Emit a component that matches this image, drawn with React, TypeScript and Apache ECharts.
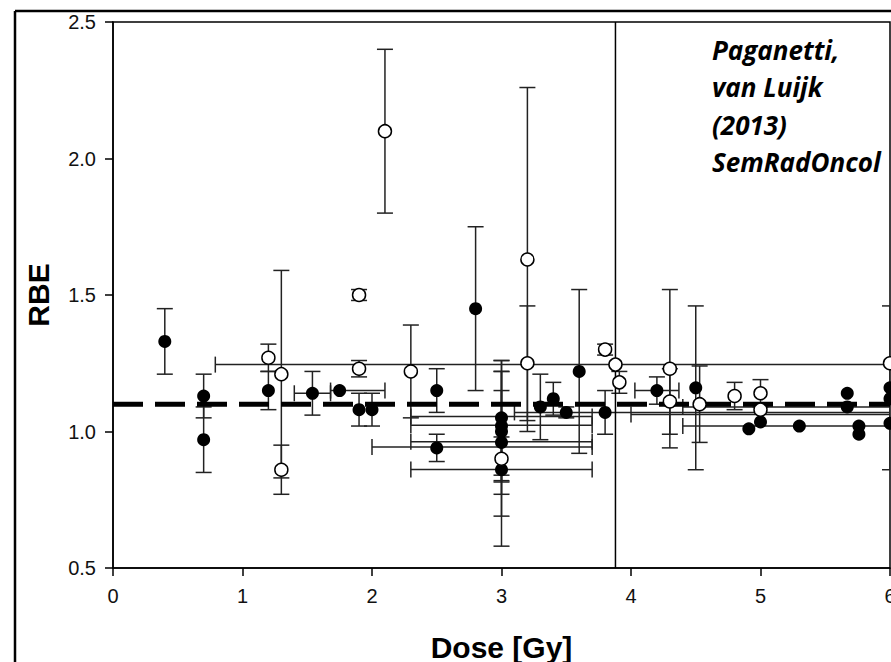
import React, { useEffect, useRef } from "react";
import * as echarts from "echarts";

// ---- data ----
const xTicks = [0, 1, 2, 3, 4, 5, 6];
const yTicks = [0.5, 1.0, 1.5, 2.0, 2.5];

const filledPoints: number[][] = [
  [0.4, 1.33], [0.7, 1.13], [0.7, 0.97], [1.2, 1.15], [1.54, 1.14], [1.75, 1.15],
  [1.9, 1.08], [2.0, 1.08], [2.5, 1.15], [2.5, 0.94], [2.8, 1.45],
  [3.0, 1.05], [3.0, 1.02], [3.0, 1.0], [3.0, 0.96], [3.0, 0.86],
  [3.3, 1.09], [3.4, 1.12], [3.5, 1.07], [3.6, 1.22], [3.8, 1.07],
  [4.2, 1.15], [4.5, 1.16], [4.91, 1.01], [5.0, 1.035], [5.3, 1.02],
  [5.67, 1.14], [5.67, 1.09], [5.76, 1.02], [5.76, 0.99],
  [6.0, 1.16], [6.0, 1.12], [6.0, 1.03],
];

const openPoints: number[][] = [
  [1.2, 1.27], [1.3, 1.21], [1.3, 0.86], [1.9, 1.5], [1.9, 1.23], [2.1, 2.1],
  [2.3, 1.22], [3.0, 0.9], [3.2, 1.63], [3.2, 1.25], [3.8, 1.3], [3.88, 1.245],
  [3.91, 1.18], [4.3, 1.23], [4.3, 1.11], [4.53, 1.1], [4.8, 1.13], [5.0, 1.14],
  [5.0, 1.08], [6.0, 1.25],
];

// [dose, low, high]
const yErrorBars: number[][] = [
  [0.4, 1.21, 1.45], [0.7, 1.05, 1.21], [0.7, 0.85, 1.09], [1.2, 1.22, 1.32],
  [1.2, 1.08, 1.22], [1.3, 0.83, 1.59], [1.3, 0.77, 0.95], [1.54, 1.06, 1.22],
  [1.9, 1.48, 1.52], [1.9, 1.2, 1.26], [1.9, 1.02, 1.14], [2.0, 1.02, 1.14],
  [2.1, 1.8, 2.4], [2.3, 1.05, 1.39], [2.5, 1.07, 1.23], [2.5, 0.89, 0.99],
  [2.8, 1.15, 1.75], [3.0, 0.84, 1.26], [3.0, 0.815, 1.26], [3.0, 0.77, 1.22],
  [3.0, 0.69, 1.22], [3.0, 0.58, 1.15], [3.0, 0.82, 0.98], [3.2, 1.0, 2.26],
  [3.2, 1.04, 1.46], [3.3, 0.97, 1.21], [3.4, 1.06, 1.18], [3.5, 1.05, 1.09],
  [3.6, 0.92, 1.52], [3.8, 0.99, 1.15], [3.8, 1.28, 1.32], [3.91, 1.14, 1.22],
  [4.2, 1.1, 1.2], [4.3, 0.94, 1.52], [4.3, 0.99, 1.23], [4.5, 0.86, 1.46],
  [4.53, 0.96, 1.24], [4.8, 1.08, 1.18], [5.0, 1.09, 1.19], [6.0, 0.86, 1.46],
];

// [rbe, low dose, high dose, left cap, right cap]
const xErrorBars: number[][] = [
  [1.245, 0.79, 6.5, 1, 0], [1.14, 1.4, 1.68, 1, 1], [1.15, 1.68, 2.1, 1, 1],
  [1.055, 2.3, 3.7, 1, 1], [1.023, 2.3, 3.7, 1, 1], [0.962, 2.3, 3.7, 1, 1],
  [0.943, 2.0, 3.7, 1, 1], [0.861, 2.3, 3.7, 1, 1], [1.15, 4.03, 4.37, 1, 1],
  [1.07, 3.1, 6.5, 1, 0], [1.062, 4.0, 6.5, 1, 0], [1.09, 4.4, 6.5, 1, 0],
  [1.02, 4.4, 6.5, 1, 0],
];

const referenceRBE = 1.1;
const dividerDose = 3.88;
const annotation = ["Paganetti,", "van Luijk", "(2013)", "SemRadOncol"];

const CAP = 8;
const BAR_STYLE = { stroke: "#222", lineWidth: 1.5 };
const FONT = "'Liberation Sans', Arial, sans-serif";

export default function App() {
  const ref = useRef<HTMLDivElement>(null);
  useEffect(() => {
    if (!ref.current) return;
    const chart = echarts.init(ref.current, undefined, { renderer: "svg" });

    const renderV = (params: any, api: any) => {
      const x = api.value(0);
      const p1 = api.coord([x, api.value(1)]);
      const p2 = api.coord([x, api.value(2)]);
      return {
        type: "group",
        children: [
          { type: "line", shape: { x1: p1[0], y1: p1[1], x2: p2[0], y2: p2[1] }, style: BAR_STYLE },
          { type: "line", shape: { x1: p1[0] - CAP, y1: p1[1], x2: p1[0] + CAP, y2: p1[1] }, style: BAR_STYLE },
          { type: "line", shape: { x1: p2[0] - CAP, y1: p2[1], x2: p2[0] + CAP, y2: p2[1] }, style: BAR_STYLE },
        ],
      };
    };
    const renderH = (params: any, api: any) => {
      const y = api.value(0);
      const p1 = api.coord([api.value(1), y]);
      const p2 = api.coord([api.value(2), y]);
      const children: any[] = [
        { type: "line", shape: { x1: p1[0], y1: p1[1], x2: p2[0], y2: p2[1] }, style: BAR_STYLE },
      ];
      if (api.value(3))
        children.push({ type: "line", shape: { x1: p1[0], y1: p1[1] - CAP, x2: p1[0], y2: p1[1] + CAP }, style: BAR_STYLE });
      if (api.value(4))
        children.push({ type: "line", shape: { x1: p2[0], y1: p2[1] - CAP, x2: p2[0], y2: p2[1] + CAP }, style: BAR_STYLE });
      return { type: "group", children };
    };

    chart.setOption({
      animation: false,
      backgroundColor: "#fff",
      grid: {
        left: 113, right: 1, top: 22, bottom: 94, show: true, borderColor: "#000", borderWidth: 1.5,
        backgroundColor: "transparent", outerBoundsMode: "none", containLabel: false,
      },
      xAxis: {
        type: "value", min: xTicks[0], max: xTicks[xTicks.length - 1], interval: 1,
        axisLine: { show: true, lineStyle: { color: "#000", width: 1.5 } },
        axisTick: { show: true, length: 8, lineStyle: { color: "#000", width: 1.5 } },
        axisLabel: { fontSize: 20, color: "#111", fontFamily: FONT, margin: 18, showMaxLabel: true },
        splitLine: { show: false },
        name: "Dose [Gy]", nameLocation: "middle", nameGap: 64,
        nameTextStyle: { fontSize: 30, fontWeight: "bold", color: "#000", fontFamily: FONT },
      },
      yAxis: {
        type: "value", min: yTicks[0], max: yTicks[yTicks.length - 1], interval: 0.5,
        axisLine: { show: true, lineStyle: { color: "#000", width: 1.5 } },
        axisTick: { show: true, length: 8, lineStyle: { color: "#000", width: 1.5 } },
        axisLabel: { fontSize: 20, color: "#111", fontFamily: FONT, margin: 17, formatter: (v: number) => v.toFixed(1) },
        splitLine: { show: false },
        name: "RBE", nameLocation: "middle", nameGap: 60, nameRotate: 90,
        nameTextStyle: { fontSize: 30, fontWeight: "bold", color: "#000", fontFamily: FONT },
      },
      graphic: [
        { type: "line", shape: { x1: 15, y1: 11, x2: 891, y2: 11 }, style: { stroke: "#000", lineWidth: 2.5 } },
        { type: "line", shape: { x1: 15, y1: 11, x2: 15, y2: 662 }, style: { stroke: "#000", lineWidth: 2.5 } },
        {
          type: "text", left: 712, top: 31, z: 10,
          style: { text: annotation.join("\n"), font: "italic bold 26px 'Open Sans', sans-serif", lineHeight: 37.5, fill: "#000" },
        },
      ],
      series: [
        { type: "custom", renderItem: renderV, data: yErrorBars, encode: { x: 0, y: [1, 2] }, clip: true, z: 2, silent: true },
        { type: "custom", renderItem: renderH, data: xErrorBars, encode: { x: [1, 2], y: 0 }, clip: true, z: 2, silent: true },
        {
          type: "line", data: [[0, referenceRBE], [6, referenceRBE]], symbol: "none", z: 3,
          lineStyle: { color: "#000", width: 5, type: [30, 12] },
        },
        {
          type: "line", data: [[dividerDose, 0.5], [dividerDose, 2.5]], symbol: "none", z: 3,
          lineStyle: { color: "#000", width: 1.5 },
        },
        { type: "scatter", data: filledPoints, symbolSize: 13, itemStyle: { color: "#000", opacity: 1 }, z: 5 },
        {
          type: "scatter", data: openPoints, symbolSize: 13, z: 6,
          itemStyle: { color: "#fff", borderColor: "#000", borderWidth: 1.5, opacity: 1 },
        },
      ],
    });
    return () => chart.dispose();
  }, []);
  return <div ref={ref} style={{ position: "fixed", left: 0, top: 0, width: 891, height: 662 }} />;
}
